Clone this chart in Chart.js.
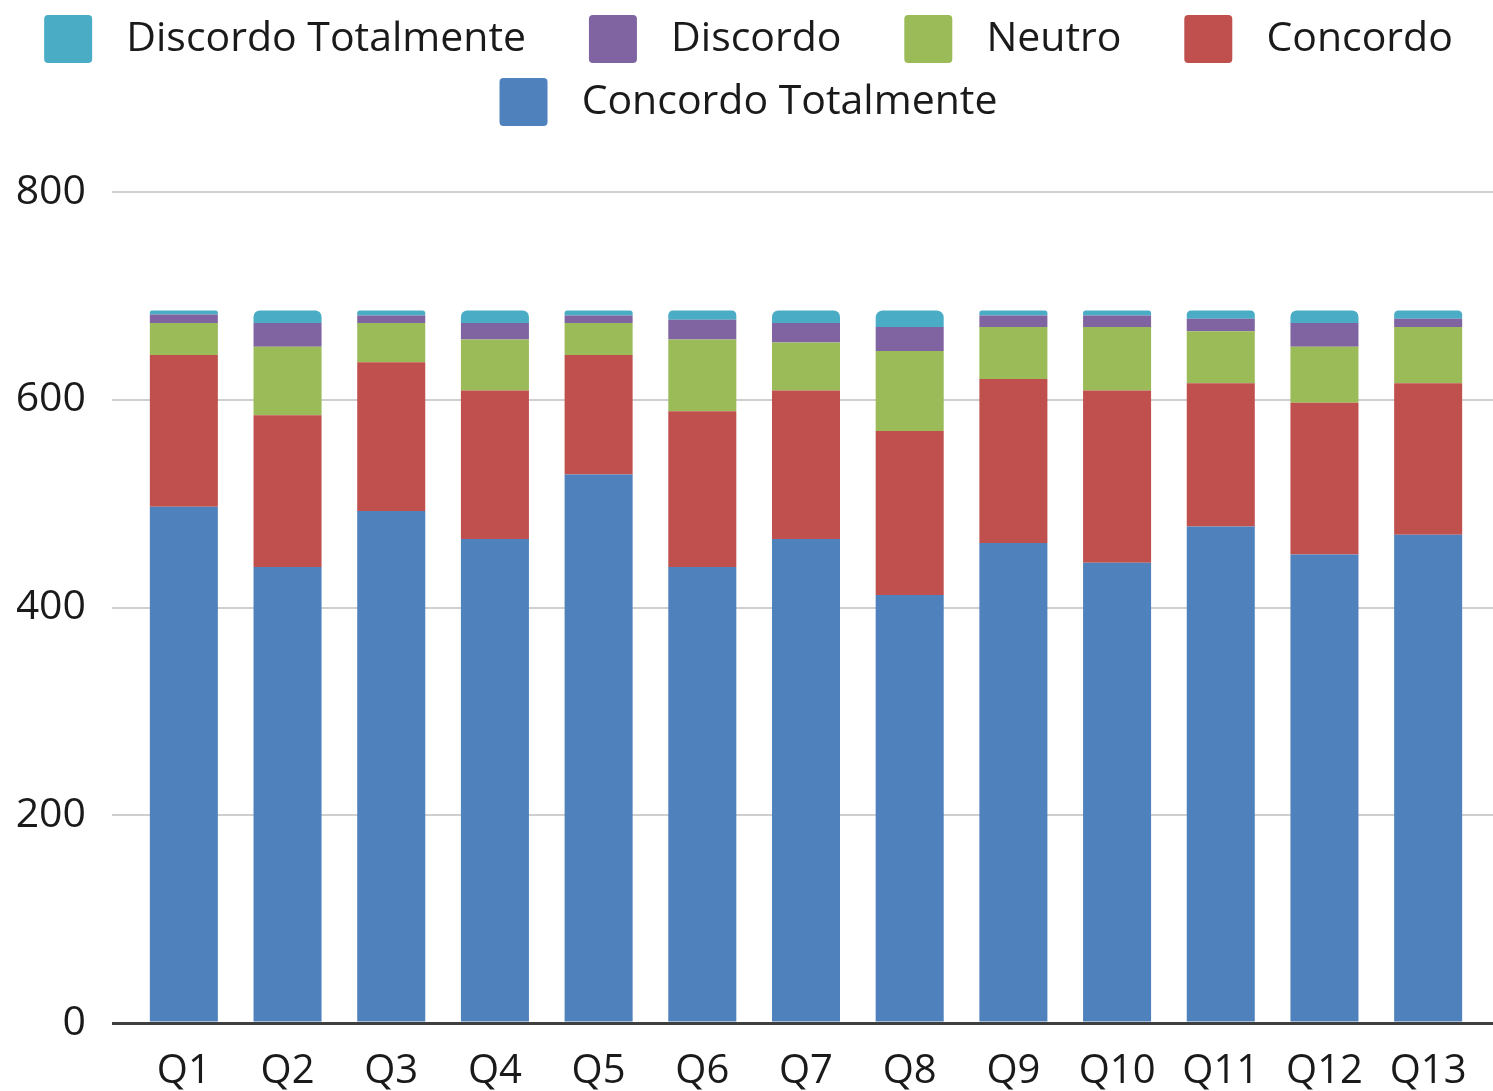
<!DOCTYPE html>
<html>
<head>
<meta charset="utf-8">
<script src="https://cdn.jsdelivr.net/npm/chart.js@4.4.0/dist/chart.umd.min.js"></script>
<style>
  html, body { margin: 0; padding: 0; background: #fff; }
  .chart-box { width: 1493px; height: 1091px; }
</style>
</head>
<body>
<div class="chart-box"><canvas id="surveyChart"></canvas></div>
<script>
  // categories
  let questions = ["Q1", "Q2", "Q3", "Q4", "Q5", "Q6", "Q7", "Q8", "Q9", "Q10", "Q11", "Q12", "Q13"];

  // series values, bottom of stack first
  let concordoTotalmente = [497, 439, 493, 466, 528, 439, 466, 412, 462, 443, 478, 451, 470];
  let concordo = [146, 146, 143, 143, 115, 150, 143, 158, 158, 166, 138, 146, 146];
  let neutro = [31, 66, 38, 49, 31, 69, 46, 77, 50, 61, 50, 54, 54];
  let discordo = [8, 23, 7, 16, 7, 19, 19, 23, 11, 11, 12, 23, 8];
  let discordoTotalmente = [4, 12, 5, 12, 5, 9, 12, 16, 5, 5, 8, 12, 8];

  // y axis
  let yMax = 800;
  let yStep = 200;

  // colors
  let colorCT = "#4f81bd";
  let colorC = "#c0504d";
  let colorN = "#9bbb59";
  let colorD = "#8064a2";
  let colorDT = "#4bacc6";
  let gridColor = "#cfcfcf";
  let zeroLineColor = "#3f3f3f";
  let textColor = "#1a1a1a";
  let chartFont = "'Open Sans', Lato, sans-serif";

  function gridWidth(value) {
    return value === 0 ? 3 : 2;
  }

  // extend horizontal grid lines past the right edge of the chart area
  const gridExtend = {
    id: "gridExtend",
    beforeDatasetsDraw(chart) {
      const ctx = chart.ctx;
      const y = chart.scales.y;
      ctx.save();
      y.ticks.forEach(t => {
        const w = gridWidth(t.value);
        // same pixel alignment Chart.js uses for its grid lines
        const py = Math.round(y.getPixelForValue(t.value) - w / 2) + w / 2;
        ctx.strokeStyle = t.value === 0 ? zeroLineColor : gridColor;
        ctx.lineWidth = w;
        ctx.beginPath();
        ctx.moveTo(chart.chartArea.right - 1, py);
        ctx.lineTo(chart.width, py);
        ctx.stroke();
      });
      ctx.restore();
    }
  };

  // leave room between legend and plot
  const legendGap = {
    id: "legendGap",
    beforeInit(chart) {
      const origFit = chart.legend.fit;
      chart.legend.fit = function () {
        origFit.bind(chart.legend)();
        this.height += 56;
      };
    }
  };

  function makeDataset(label, data, color, top) {
    return {
      label: label,
      data: data,
      backgroundColor: color,
      borderWidth: 0,
      borderRadius: top ? { topLeft: 7, topRight: 7, bottomLeft: 0, bottomRight: 0 } : 0,
      borderSkipped: top ? false : "start",
      barPercentage: 0.656,
      categoryPercentage: 1.0,
    };
  }

  const ctx = document.getElementById("surveyChart").getContext("2d");
  new Chart(ctx, {
    type: "bar",
    data: {
      labels: questions,
      datasets: [
        makeDataset("Concordo Totalmente", concordoTotalmente, colorCT),
        makeDataset("Concordo", concordo, colorC),
        makeDataset("Neutro", neutro, colorN),
        makeDataset("Discordo", discordo, colorD),
        makeDataset("Discordo Totalmente", discordoTotalmente, colorDT, true),
      ],
    },
    options: {
      responsive: true,
      maintainAspectRatio: false,
      animation: false,
      layout: { padding: { left: 17, right: 13, top: 0, bottom: 0 } },
      plugins: {
        tooltip: { enabled: false },
        legend: {
          display: true,
          position: "top",
          reverse: true,
          labels: {
            boxWidth: 48,
            boxHeight: 48,
            padding: 15,
            color: textColor,
            useBorderRadius: true,
            borderRadius: 4,
            font: { family: chartFont, size: 41 },
            generateLabels(chart) {
              const items = Chart.defaults.plugins.legend.labels.generateLabels(chart);
              items.forEach(item => {
                let text = "\u2009\u2009" + item.text;
                if (item.text !== "Concordo" && item.text !== "Concordo Totalmente") {
                  text += "\u2003\u2009";
                }
                item.text = text;
                item.lineWidth = 0;
              });
              return items;
            },
          },
        },
      },
      scales: {
        x: {
          stacked: true,
          grid: { display: false },
          border: { display: false },
          afterFit(scale) { scale.height = 68; },
          ticks: {
            color: textColor,
            padding: 17,
            maxRotation: 0,
            autoSkip: false,
            font: { family: chartFont, size: 40 },
          },
        },
        y: {
          stacked: true,
          min: 0,
          max: yMax,
          border: { display: false },
          afterFit(scale) { scale.width = 115; },
          grid: {
            drawTicks: true,
            tickLength: 20,
            color: c => (c.tick && c.tick.value === 0 ? zeroLineColor : gridColor),
            lineWidth: c => gridWidth(c.tick ? c.tick.value : null),
          },
          ticks: {
            stepSize: yStep,
            padding: 26,
            color: textColor,
            font: { family: chartFont, size: 41 },
          },
        },
      },
    },
    plugins: [gridExtend, legendGap],
  });
</script>
</body>
</html>
